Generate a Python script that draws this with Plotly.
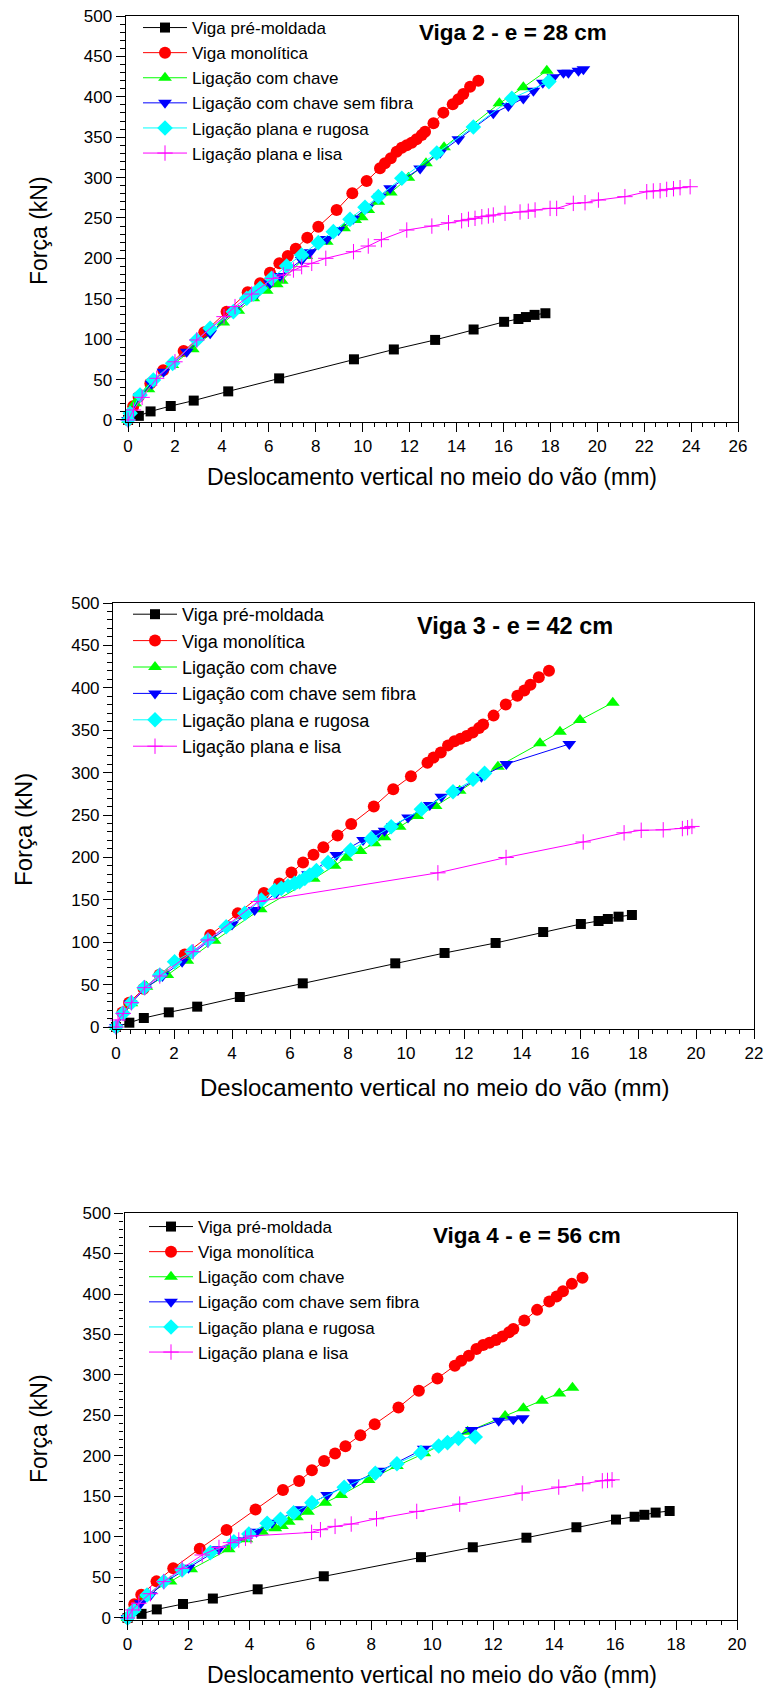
import plotly.graph_objects as go

# deslocamento vertical (mm) x força (kN), lidos do gráfico
# vigas de referência (iguais nos três gráficos)
premold_x = [0, 0.46, 0.96, 1.82, 2.80, 4.27, 6.44, 9.63, 11.33, 13.09, 14.73, 16.03, 16.64, 16.96, 17.33, 17.79]
premold_f = [0, 5.1, 10.6, 17.3, 24.0, 35.4, 51.5, 75.1, 87.3, 99.1, 112.0, 121.5, 125.0, 127.4, 130.1, 132.1]

mono_x = [0, 0.22, 0.45, 0.95, 1.50, 2.37, 3.25, 4.20, 5.10, 5.63, 6.05, 6.45, 6.81, 7.15, 7.64, 8.11, 8.89,
          9.56, 10.17, 10.74, 10.95, 11.20, 11.45, 11.67, 11.88, 12.09, 12.30, 12.52, 12.66, 13.02, 13.44,
          13.84, 14.08, 14.29, 14.58, 14.93]
mono_f = [0, 17, 28.6, 45.2, 61.5, 85.5, 108.5, 134.0, 158.0, 169.1, 182.3, 193.9, 203.0, 212.0, 225.7, 239.3,
          259.9, 280.5, 295.8, 311.5, 317.7, 323.8, 332.1, 337.0, 339.9, 343.2, 347.4, 352.7, 356.8, 367.2,
          380.4, 390.7, 396.9, 403.5, 412.5, 420.0]

# Viga 2 - e = 28 cm
v2_chave_x = [0, 0.30, 0.87, 1.89, 2.76, 4.06, 4.70, 5.34, 5.91, 6.34, 6.55, 7.60, 8.47, 9.21, 9.68, 9.96,
              10.24, 10.67, 11.20, 11.95, 12.70, 13.47, 15.83, 16.85, 17.85]
v2_chave_f = [0, 20.6, 38.0, 68.1, 87.5, 120.5, 135.3, 150.6, 160.1, 167.9, 172.4, 203.0, 220.7, 237.2, 247.5,
              250.8, 259.9, 270.2, 281.4, 299.9, 317.7, 337.5, 391.9, 411.7, 432.3]
v2_semfibra_x = [0, 0.50, 1.00, 1.51, 2.50, 3.50, 4.50, 5.50, 6.05, 6.48, 7.40, 7.76, 8.47, 8.97, 9.60, 10.20,
                 10.74, 11.17, 12.45, 13.30, 14.08, 15.57, 16.21, 16.85, 17.28, 17.68, 18.13, 18.56, 18.77,
                 19.20, 19.41]
v2_semfibra_f = [0, 29, 45, 59.8, 84.6, 107.3, 134, 157, 169.1, 178.2, 198.0, 207.5, 224.0, 235.1, 249, 263,
                 276.4, 286.7, 311.4, 330.9, 347.4, 379.5, 388.6, 398.0, 407.5, 417.3, 424.1, 429.9, 429.9,
                 432.3, 434.0]
v2_rugosa_x = [0, 0.09, 0.51, 1.08, 1.90, 2.93, 3.50, 4.49, 5.06, 5.34, 5.63, 6.12, 6.76, 7.40, 8.11, 8.75,
               9.46, 10.10, 10.67, 11.67, 13.16, 14.72, 16.36, 17.94]
v2_rugosa_f = [0, 8.3, 30.9, 49.5, 70.1, 99.0, 113.4, 134.1, 150.6, 155.9, 163.0, 175.3, 190.6, 204.2, 219.5,
               233.1, 248.3, 263.2, 276.4, 299.1, 330.5, 362.6, 398.0, 418.8]
v2_lisa_x = [0, 0.23, 0.60, 1.22, 2.00, 2.93, 4.09, 4.56, 5.27, 6.19, 6.62, 7.05, 7.40, 7.83, 8.43, 9.61,
             10.24, 10.80, 11.88, 12.95, 13.66, 14.22, 14.51, 14.79, 15.08, 15.36, 15.57, 16.07, 16.71, 17.06,
             17.35, 17.99, 18.27, 18.98, 19.48, 20.05, 21.18, 22.11, 22.39, 22.68, 22.96, 23.25, 23.53, 23.96]
v2_lisa_f = [0, 12.4, 28, 51.6, 72, 99.0, 127.9, 140.3, 155.9, 175.3, 179.5, 185.6, 189.8, 193.9, 200.1, 208.3,
             215.3, 223.2, 235.1, 240.0, 244.1, 246.6, 248.3, 249.6, 251.6, 252.5, 253.7, 255.8, 257.4, 258.3,
             259.9, 261.9, 261.9, 268.1, 268.9, 272.2, 276.4, 282.5, 283.4, 283.8, 285.4, 286.2, 287.5, 288.7]

# Viga 3 - e = 42 cm
v3_chave_x = [0, 0.53, 1.05, 1.77, 2.46, 3.40, 4.99, 6.82, 7.54, 7.94, 8.43, 8.92, 9.26, 9.78, 10.39, 11.02,
              11.85, 13.17, 14.62, 15.31, 16.00, 17.13]
v3_chave_f = [0, 27.9, 47.6, 61.3, 78.2, 101.8, 138.8, 174.9, 190.3, 199.7, 207.5, 216.6, 223.7, 236.2, 248.8,
              260.6, 278.7, 307.0, 334.5, 348.3, 362.0, 382.5]
v3_semfibra_x = [0, 0.50, 1.00, 1.60, 2.28, 3.17, 4.00, 4.78, 5.53, 6.62, 7.60, 8.52, 9.03, 9.26, 9.55, 10.07,
                 10.82, 11.22, 11.79, 12.60, 13.46, 15.63]
v3_semfibra_f = [0, 28, 45, 60, 77.0, 100.6, 121, 138.0, 158.4, 180, 202.8, 220.5, 228.4, 231.5, 237.0, 247.2,
                 261.8, 271.6, 279.5, 295.2, 310.1, 333.7]
v3_rugosa_x = [0, 0.24, 0.53, 0.97, 1.51, 2.02, 2.62, 3.17, 3.80, 4.44, 5.01, 5.47, 5.70, 5.93, 6.16, 6.33,
               6.51, 6.68, 6.91, 7.31, 8.09, 8.80, 9.49, 10.53, 11.62, 12.31, 12.71]
v3_rugosa_f = [0, 16.1, 28.7, 46.4, 61.3, 77.0, 88.8, 102.6, 118.3, 134.0, 149.8, 160.8, 163.5, 166.3, 169.4,
               171.4, 175.3, 179.2, 184.4, 193.8, 208.7, 222.1, 236.2, 256.7, 277.5, 292.1, 299.1]
v3_lisa_x = [0, 0.07, 0.25, 0.53, 0.99, 1.51, 2.66, 3.17, 4.90, 11.10, 13.45, 16.11, 17.52, 18.11, 18.87,
             19.53, 19.71, 19.86]
v3_lisa_f = [0, 8.3, 16, 28.7, 46.4, 60.1, 88.8, 102.6, 148, 181.8, 199.9, 218.2, 229, 232, 232.5, 234, 235,
             236.5]

# Viga 4 - e = 56 cm
v4_chave_x = [0, 0.20, 0.59, 1.41, 2.09, 3.32, 3.90, 4.42, 4.85, 5.07, 5.29, 5.56, 5.92, 6.49, 7.01, 7.91,
              8.84, 9.74, 11.16, 12.39, 12.99, 13.60, 14.17, 14.60]
v4_chave_f = [0, 10, 28.4, 44.9, 60.1, 84.8, 97.1, 106.6, 110.7, 113.6, 118.9, 124.3, 131.3, 142.4, 151.9,
              170.4, 187.7, 203.3, 230.0, 249.4, 258.8, 268.3, 277.3, 284.4]
v4_semfibra_x = [0, 0.43, 0.75, 1.19, 2.00, 2.99, 3.60, 4.23, 4.74, 5.67, 6.55, 7.42, 8.30, 9.72, 11.30,
                 12.18, 12.66, 12.97]
v4_semfibra_f = [0, 18.1, 28, 43.6, 62, 84.8, 96, 106.6, 117.7, 134.2, 151.9, 167.5, 181.7, 208.8, 232.1,
                 243.6, 245.3, 246.5]
v4_rugosa_x = [0, 0.21, 0.64, 1.19, 1.79, 2.72, 3.49, 3.98, 4.58, 5.02, 5.45, 6.05, 7.11, 8.13, 8.84, 9.63,
               10.21, 10.50, 10.86, 11.41]
v4_rugosa_f = [0, 9.9, 28.4, 44.9, 59.3, 80.7, 94.2, 103.7, 116.9, 121.8, 130.0, 142.4, 161.3, 178.6, 190.5,
               204.1, 212.3, 216.5, 221.8, 223.5]
v4_lisa_x = [0, 0.15, 0.37, 0.75, 1.19, 1.79, 2.45, 3.00, 3.38, 3.65, 3.87, 4.05, 6.04, 6.33, 6.81, 7.34,
             8.17, 9.49, 10.90, 12.95, 14.15, 14.94, 15.58, 15.75, 15.90]
v4_lisa_f = [0, 9.9, 18.1, 30, 44.9, 61.3, 77.8, 87, 93.0, 96.3, 98.4, 101.2, 105.7, 109.0, 113.1, 116.0,
             122.5, 131.6, 140.6, 154.2, 161.6, 165.7, 169.4, 169.8, 170.6]

names = ["Viga pré-moldada", "Viga monolítica", "Ligação com chave",
         "Ligação com chave sem fibra", "Ligação plana e rugosa", "Ligação plana e lisa"]
titles = ["Viga 2 - e = 28 cm", "Viga 3 - e = 42 cm", "Viga 4 - e = 56 cm"]
xmax = [26, 22, 20]

series = [
    [(premold_x, premold_f), (mono_x, mono_f), (v2_chave_x, v2_chave_f),
     (v2_semfibra_x, v2_semfibra_f), (v2_rugosa_x, v2_rugosa_f), (v2_lisa_x, v2_lisa_f)],
    [(premold_x, premold_f), (mono_x, mono_f), (v3_chave_x, v3_chave_f),
     (v3_semfibra_x, v3_semfibra_f), (v3_rugosa_x, v3_rugosa_f), (v3_lisa_x, v3_lisa_f)],
    [(premold_x, premold_f), (mono_x, mono_f), (v4_chave_x, v4_chave_f),
     (v4_semfibra_x, v4_semfibra_f), (v4_rugosa_x, v4_rugosa_f), (v4_lisa_x, v4_lisa_f)],
]

colors = ["#000000", "#FF0000", "#00FF00", "#0000FF", "#00FFFF", "#FF00FF"]
symbols = ["square", "circle", "triangle-up", "triangle-down", "diamond", "cross-thin-open"]
sizes = [10, 12, 12, 12, 12, 11]

W, H = 766, 1688
FONT = "Liberation Sans, Arial, sans-serif"

# plot areas in pixels: (left, right, top, bottom)
boxes = [(125.7, 738, 16, 421.6), (113.1, 754, 603, 1028.7), (124.5, 737, 1213, 1619.6)]
legend_pos = [(138, 10), (128, 596), (144, 1209)]
legend_font = [17, 18, 17]
title_pos = [(513, 33), (515, 626), (527, 1235)]
title_size = [22.5, 23.5, 22.5]
ytitle_pos = [(39, 231), (24, 830), (39, 1429)]
xtitle_pos = [(432, 477), (435, 1087), (432, 1675)]
xtitle_size = [23, 24, 23]

fig = go.Figure()
layout = dict(width=W, height=H, margin=dict(l=0, r=0, t=0, b=0, autoexpand=False),
              paper_bgcolor="white", plot_bgcolor="white",
              font=dict(family=FONT, color="black"), annotations=[])

for p in range(3):
    sfx = "" if p == 0 else str(p + 1)
    leg = "legend" + sfx
    for k in range(6):
        xs, fs = series[p][k]
        mk = dict(symbol=symbols[k], size=sizes[k], color=colors[k])
        if k == 5:
            mk["line"] = dict(color=colors[k], width=1)
        fig.add_trace(go.Scatter(x=xs, y=fs, mode="lines+markers", name=names[k],
                                 line=dict(color=colors[k], width=1), marker=mk,
                                 xaxis="x" + sfx, yaxis="y" + sfx, legend=leg,
                                 cliponaxis=False))

    l, r, t, b = boxes[p]
    common = dict(showline=True, linecolor="black", linewidth=1.3, mirror=True,
                  ticks="outside", ticklen=9, tickwidth=1, tickcolor="black",
                  showgrid=False, zeroline=False, tick0=0,
                  tickfont=dict(family=FONT, size=17, color="black"))
    layout["xaxis" + sfx] = dict(common, domain=[l / W, r / W], range=[-0.1, xmax[p]], dtick=2,
                                 anchor="y" + sfx, ticklabelstandoff=0,
                                 minor=dict(dtick=0.5, ticklen=4.5, tickwidth=1, tickcolor="black",
                                            ticks="outside"))
    layout["yaxis" + sfx] = dict(common, domain=[1 - b / H, 1 - t / H], range=[-2, 500], dtick=50,
                                 anchor="x" + sfx,
                                 minor=dict(dtick=10, ticklen=4.5, tickwidth=1, tickcolor="black",
                                            ticks="outside"))
    lx, ly = legend_pos[p]
    layout[leg] = dict(x=lx / W, y=1 - ly / H, xanchor="left", yanchor="top",
                       bgcolor="rgba(0,0,0,0)", borderwidth=0, itemwidth=44,
                       font=dict(family=FONT, size=legend_font[p], color="black"),
                       tracegroupgap=0)

    tx, ty = title_pos[p]
    layout["annotations"].append(dict(text="<b>" + titles[p] + "</b>", x=tx / W, y=1 - ty / H,
                                      xref="paper", yref="paper", showarrow=False,
                                      xanchor="center", yanchor="middle",
                                      font=dict(family=FONT, size=title_size[p], color="black")))
    yx, yy = ytitle_pos[p]
    layout["annotations"].append(dict(text="Força (kN)", x=yx / W, y=1 - yy / H, textangle=-90,
                                      xref="paper", yref="paper", showarrow=False,
                                      xanchor="center", yanchor="middle",
                                      font=dict(family=FONT, size=xtitle_size[p], color="black")))
    xx, xy = xtitle_pos[p]
    layout["annotations"].append(dict(text="Deslocamento vertical no meio do vão (mm)",
                                      x=xx / W, y=1 - xy / H, xref="paper", yref="paper",
                                      showarrow=False, xanchor="center", yanchor="middle",
                                      font=dict(family=FONT, size=xtitle_size[p], color="black")))

fig.update_layout(**layout)
# the page body has a default 8px margin; drop it so the figure fills the window
fig.write_html("out.html", config={"displayModeBar": False},
               post_script="document.body.style.margin='0';")
